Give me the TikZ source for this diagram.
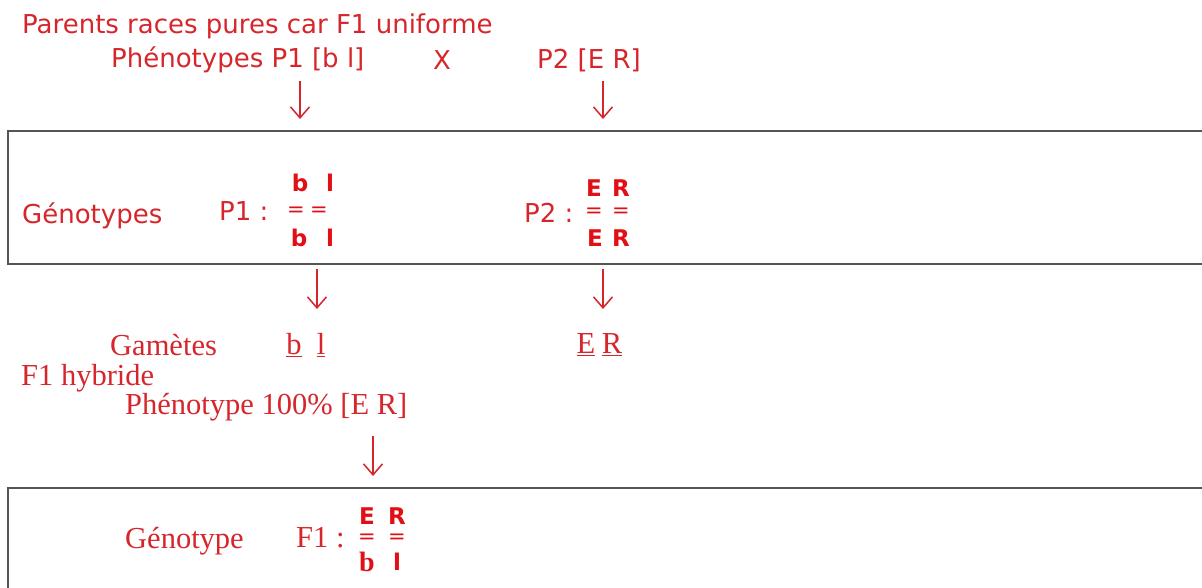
\documentclass[tikz,border=0pt]{standalone}
\usepackage{fontspec}
\setmainfont{Liberation Serif}
\setsansfont{DejaVu Sans}
\usetikzlibrary{arrows.meta}
\definecolor{txtred}{RGB}{214,38,44}
\definecolor{genred}{RGB}{226,16,22}
\definecolor{boxgray}{RGB}{85,85,85}
\tikzset{
  sanslbl/.style={anchor=west, inner sep=0pt, text=txtred, font=\sffamily\fontsize{26}{30}\selectfont},
  seriflbl/.style={anchor=west, inner sep=0pt, text=txtred, font=\rmfamily\fontsize{30.5}{34}\selectfont},
  gamete/.style={inner sep=0pt, text=txtred, font=\rmfamily\fontsize{30.5}{34}\selectfont},
  allele/.style={inner sep=0pt, text=genred, font=\sffamily\bfseries\fontsize{23}{26}\selectfont},
  bar/.style={inner sep=0pt, text=genred, font=\sffamily\fontsize{21}{24}\selectfont},
  sallele/.style={inner sep=0pt, text=genred, font=\rmfamily\bfseries\fontsize{28}{30}\selectfont},
  frame/.style={draw=boxgray, line width=2.6pt},
  downarrow/.style={draw=txtred, line width=1.5pt, -{Straight Barb[length=11pt,width=19pt,line width=1.5pt]}}
}
\begin{document}
\begin{tikzpicture}[x=1pt,y=-1pt]
\useasboundingbox (0,0) rectangle (1202,587);
\fill[white] (0,0) rectangle (1202,587);
% boxes
\draw[frame] (1210,131) -- (8,131) -- (8,264) -- (1210,264);
\draw[frame] (1210,488) -- (8,488) -- (8,600);
% top texts
\node[sanslbl] (parents) at (22,26) {Parents races pures car F1 uniforme};
\node[sanslbl] (pheno1) at (111,60) {Phénotypes P1 [b l]};
\node[sanslbl] (cross) at (433,60) {X};
\node[sanslbl] (pheno2) at (537,60) {P2 [E R]};
\coordinate (a1s) at (300,81);
\coordinate (a1e) at (300,119);
\coordinate (a2s) at (603,81);
\coordinate (a2e) at (603,119);
\draw[downarrow] (a1s) -- (a1e);
\draw[downarrow] (a2s) -- (a2e);
% genotypes box
\node[sanslbl] (geno) at (22,216) {Génotypes};
\node[sanslbl] (p1lbl) at (219,211) {P1 :};
\node[allele] (p1b1) at (300,183) {b};
\node[allele] (p1l1) at (330,183) {l};
\node[bar] (p1e1) at (296,212) {=};
\node[bar] (p1e2) at (319,212) {=};
\node[allele] (p1b2) at (299,238) {b};
\node[allele] (p1l2) at (330,238) {l};
\node[sanslbl] (p2lbl) at (524,213) {P2 :};
\node[allele] (p2e1) at (594,188) {E};
\node[allele] (p2r1) at (621,188) {R};
\node[bar] (p2q1) at (594,213) {=};
\node[bar] (p2q2) at (621,213) {=};
\node[allele] (p2e2) at (595,238) {E};
\node[allele] (p2r2) at (621,238) {R};
% arrows below box
\coordinate (a3s) at (317,269);
\coordinate (a3e) at (317,309);
\coordinate (a4s) at (603,269);
\coordinate (a4e) at (603,309);
\draw[downarrow] (a3s) -- (a3e);
\draw[downarrow] (a4s) -- (a4e);
% gametes
\node[seriflbl] (gam) at (110,345) {Gamètes};
\node[gamete] (gb) at (294,345) {\underline{b}};
\node[gamete] (gl) at (321,345) {\underline{l}};
\node[gamete] (ge) at (586,345) {\underline{E}};
\node[gamete] (gr) at (612,345) {\underline{R}};
\node[seriflbl] (f1h) at (21,378) {F1 hybride};
\node[seriflbl] (phf1) at (125,407) {Phénotype 100\% [E R]};
\coordinate (a5s) at (373,436);
\coordinate (a5e) at (373,476);
\draw[downarrow] (a5s) -- (a5e);
% F1 genotype
\node[seriflbl] (genf1) at (125,541) {Génotype};
\node[seriflbl] (f1lbl) at (296,538) {F1 :};
\node[allele] (f1e) at (367,516) {E};
\node[allele] (f1r) at (397,516) {R};
\node[bar] (f1q1) at (367,539) {=};
\node[bar] (f1q2) at (397,539) {=};
\node[sallele] (f1b) at (367,562) {b};
\node[allele] (f1l) at (397,562) {l};
\end{tikzpicture}
\end{document}
